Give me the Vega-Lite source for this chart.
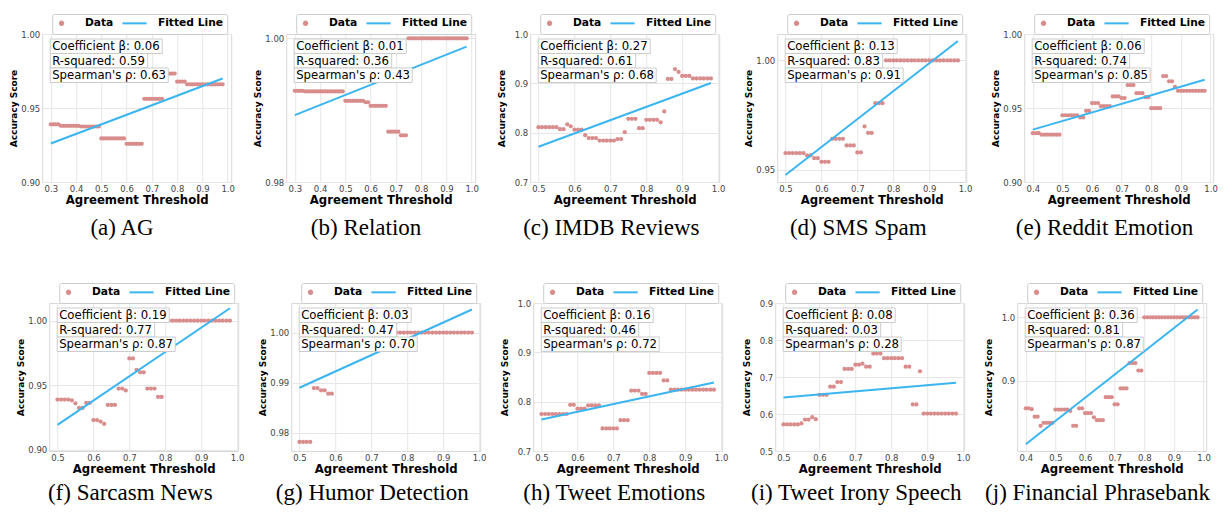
{
"$schema": "https://vega.github.io/schema/vega-lite/v6.json",
"padding": {"left": 9, "top": 13, "right": 0, "bottom": 0},
"spacing": 41,
"center": true,
"resolve": {"scale": {"color": "independent", "shape": "independent"}, "legend": {"color": "independent", "shape": "independent"}},
"datasets": {
"pts": [
{"p":"a","x":0.30,"y":0.939},{"p":"a","x":0.31,"y":0.939},{"p":"a","x":0.32,"y":0.939},{"p":"a","x":0.33,"y":0.939},
{"p":"a","x":0.34,"y":0.938},{"p":"a","x":0.35,"y":0.938},{"p":"a","x":0.36,"y":0.938},{"p":"a","x":0.37,"y":0.938},{"p":"a","x":0.38,"y":0.938},{"p":"a","x":0.39,"y":0.938},{"p":"a","x":0.40,"y":0.938},{"p":"a","x":0.41,"y":0.938},
{"p":"a","x":0.42,"y":0.9375},{"p":"a","x":0.43,"y":0.9375},{"p":"a","x":0.44,"y":0.9375},{"p":"a","x":0.45,"y":0.9375},{"p":"a","x":0.46,"y":0.9375},{"p":"a","x":0.47,"y":0.9375},{"p":"a","x":0.48,"y":0.9375},{"p":"a","x":0.49,"y":0.9375},
{"p":"a","x":0.50,"y":0.9294},{"p":"a","x":0.51,"y":0.9294},{"p":"a","x":0.52,"y":0.9294},{"p":"a","x":0.53,"y":0.9294},{"p":"a","x":0.54,"y":0.9294},{"p":"a","x":0.55,"y":0.9294},{"p":"a","x":0.56,"y":0.9294},{"p":"a","x":0.57,"y":0.9294},{"p":"a","x":0.58,"y":0.9294},{"p":"a","x":0.59,"y":0.9294},
{"p":"a","x":0.60,"y":0.9258},{"p":"a","x":0.61,"y":0.9258},{"p":"a","x":0.62,"y":0.9258},{"p":"a","x":0.63,"y":0.9258},{"p":"a","x":0.64,"y":0.9258},{"p":"a","x":0.65,"y":0.9258},{"p":"a","x":0.66,"y":0.9258},
{"p":"a","x":0.67,"y":0.9562},{"p":"a","x":0.68,"y":0.9562},{"p":"a","x":0.69,"y":0.9562},{"p":"a","x":0.70,"y":0.9562},{"p":"a","x":0.71,"y":0.9562},{"p":"a","x":0.72,"y":0.9562},{"p":"a","x":0.73,"y":0.9562},{"p":"a","x":0.74,"y":0.9562},
{"p":"a","x":0.75,"y":0.9733},{"p":"a","x":0.76,"y":0.9733},{"p":"a","x":0.77,"y":0.9733},{"p":"a","x":0.78,"y":0.9733},{"p":"a","x":0.79,"y":0.9733},
{"p":"a","x":0.80,"y":0.9679},{"p":"a","x":0.81,"y":0.9679},{"p":"a","x":0.82,"y":0.9679},{"p":"a","x":0.83,"y":0.9679},
{"p":"a","x":0.84,"y":0.966},{"p":"a","x":0.85,"y":0.966},{"p":"a","x":0.86,"y":0.966},{"p":"a","x":0.87,"y":0.966},{"p":"a","x":0.88,"y":0.966},{"p":"a","x":0.89,"y":0.966},{"p":"a","x":0.90,"y":0.966},{"p":"a","x":0.91,"y":0.966},{"p":"a","x":0.92,"y":0.966},{"p":"a","x":0.93,"y":0.966},{"p":"a","x":0.94,"y":0.966},{"p":"a","x":0.95,"y":0.966},{"p":"a","x":0.96,"y":0.966},{"p":"a","x":0.97,"y":0.966},{"p":"a","x":0.98,"y":0.966},

{"p":"b","x":0.30,"y":0.9927},{"p":"b","x":0.31,"y":0.9927},{"p":"b","x":0.32,"y":0.9927},{"p":"b","x":0.33,"y":0.9927},
{"p":"b","x":0.34,"y":0.9926},{"p":"b","x":0.35,"y":0.9926},{"p":"b","x":0.36,"y":0.9926},{"p":"b","x":0.37,"y":0.9926},{"p":"b","x":0.38,"y":0.9926},{"p":"b","x":0.39,"y":0.9926},{"p":"b","x":0.40,"y":0.9926},{"p":"b","x":0.41,"y":0.9926},{"p":"b","x":0.42,"y":0.9926},{"p":"b","x":0.43,"y":0.9926},{"p":"b","x":0.44,"y":0.9926},{"p":"b","x":0.45,"y":0.9926},{"p":"b","x":0.46,"y":0.9926},{"p":"b","x":0.47,"y":0.9926},{"p":"b","x":0.48,"y":0.9926},{"p":"b","x":0.49,"y":0.9926},
{"p":"b","x":0.50,"y":0.9913},{"p":"b","x":0.51,"y":0.9913},{"p":"b","x":0.52,"y":0.9913},{"p":"b","x":0.53,"y":0.9913},{"p":"b","x":0.54,"y":0.9913},{"p":"b","x":0.55,"y":0.9913},{"p":"b","x":0.56,"y":0.9913},{"p":"b","x":0.57,"y":0.9913},
{"p":"b","x":0.58,"y":0.9911},{"p":"b","x":0.59,"y":0.9911},
{"p":"b","x":0.60,"y":0.9906},{"p":"b","x":0.61,"y":0.9906},{"p":"b","x":0.62,"y":0.9906},{"p":"b","x":0.63,"y":0.9906},{"p":"b","x":0.64,"y":0.9906},{"p":"b","x":0.65,"y":0.9906},{"p":"b","x":0.66,"y":0.9906},
{"p":"b","x":0.67,"y":0.987},{"p":"b","x":0.68,"y":0.987},{"p":"b","x":0.69,"y":0.987},{"p":"b","x":0.70,"y":0.987},{"p":"b","x":0.71,"y":0.987},
{"p":"b","x":0.72,"y":0.9865},{"p":"b","x":0.73,"y":0.9865},{"p":"b","x":0.74,"y":0.9865},
{"p":"b","x":0.75,"y":1.0},{"p":"b","x":0.76,"y":1.0},{"p":"b","x":0.77,"y":1.0},{"p":"b","x":0.78,"y":1.0},{"p":"b","x":0.79,"y":1.0},{"p":"b","x":0.80,"y":1.0},{"p":"b","x":0.81,"y":1.0},{"p":"b","x":0.82,"y":1.0},{"p":"b","x":0.83,"y":1.0},{"p":"b","x":0.84,"y":1.0},{"p":"b","x":0.85,"y":1.0},{"p":"b","x":0.86,"y":1.0},{"p":"b","x":0.87,"y":1.0},{"p":"b","x":0.88,"y":1.0},{"p":"b","x":0.89,"y":1.0},{"p":"b","x":0.90,"y":1.0},{"p":"b","x":0.91,"y":1.0},{"p":"b","x":0.92,"y":1.0},{"p":"b","x":0.93,"y":1.0},{"p":"b","x":0.94,"y":1.0},{"p":"b","x":0.95,"y":1.0},{"p":"b","x":0.96,"y":1.0},{"p":"b","x":0.97,"y":1.0},{"p":"b","x":0.98,"y":1.0},

{"p":"c","x":0.50,"y":0.811},{"p":"c","x":0.51,"y":0.811},{"p":"c","x":0.52,"y":0.811},{"p":"c","x":0.53,"y":0.811},{"p":"c","x":0.54,"y":0.811},{"p":"c","x":0.55,"y":0.811},
{"p":"c","x":0.56,"y":0.807},{"p":"c","x":0.57,"y":0.807},{"p":"c","x":0.58,"y":0.817},{"p":"c","x":0.59,"y":0.813},
{"p":"c","x":0.60,"y":0.806},{"p":"c","x":0.61,"y":0.806},{"p":"c","x":0.62,"y":0.806},{"p":"c","x":0.63,"y":0.795},
{"p":"c","x":0.64,"y":0.789},{"p":"c","x":0.65,"y":0.789},{"p":"c","x":0.66,"y":0.789},
{"p":"c","x":0.67,"y":0.784},{"p":"c","x":0.68,"y":0.784},{"p":"c","x":0.69,"y":0.784},{"p":"c","x":0.70,"y":0.784},{"p":"c","x":0.71,"y":0.784},
{"p":"c","x":0.72,"y":0.787},{"p":"c","x":0.73,"y":0.787},{"p":"c","x":0.74,"y":0.801},
{"p":"c","x":0.75,"y":0.828},{"p":"c","x":0.76,"y":0.828},{"p":"c","x":0.77,"y":0.828},{"p":"c","x":0.78,"y":0.809},{"p":"c","x":0.79,"y":0.809},
{"p":"c","x":0.80,"y":0.826},{"p":"c","x":0.81,"y":0.826},{"p":"c","x":0.82,"y":0.826},{"p":"c","x":0.83,"y":0.826},{"p":"c","x":0.84,"y":0.821},{"p":"c","x":0.85,"y":0.843},
{"p":"c","x":0.86,"y":0.909},{"p":"c","x":0.87,"y":0.909},{"p":"c","x":0.88,"y":0.929},{"p":"c","x":0.89,"y":0.923},
{"p":"c","x":0.90,"y":0.915},{"p":"c","x":0.91,"y":0.915},{"p":"c","x":0.92,"y":0.915},
{"p":"c","x":0.93,"y":0.91},{"p":"c","x":0.94,"y":0.91},{"p":"c","x":0.95,"y":0.91},{"p":"c","x":0.96,"y":0.91},{"p":"c","x":0.97,"y":0.91},{"p":"c","x":0.98,"y":0.91},

{"p":"d","x":0.50,"y":0.9577},{"p":"d","x":0.51,"y":0.9577},{"p":"d","x":0.52,"y":0.9577},{"p":"d","x":0.53,"y":0.9577},{"p":"d","x":0.54,"y":0.9577},{"p":"d","x":0.55,"y":0.9577},
{"p":"d","x":0.56,"y":0.9567},{"p":"d","x":0.57,"y":0.9567},{"p":"d","x":0.58,"y":0.9554},{"p":"d","x":0.59,"y":0.9554},
{"p":"d","x":0.60,"y":0.9537},{"p":"d","x":0.61,"y":0.9537},{"p":"d","x":0.62,"y":0.9537},
{"p":"d","x":0.63,"y":0.9642},{"p":"d","x":0.64,"y":0.9642},{"p":"d","x":0.65,"y":0.9642},{"p":"d","x":0.66,"y":0.9642},
{"p":"d","x":0.67,"y":0.9612},{"p":"d","x":0.68,"y":0.9612},{"p":"d","x":0.69,"y":0.9612},
{"p":"d","x":0.70,"y":0.958},{"p":"d","x":0.71,"y":0.958},{"p":"d","x":0.72,"y":0.9699},{"p":"d","x":0.73,"y":0.9669},{"p":"d","x":0.74,"y":0.9669},
{"p":"d","x":0.75,"y":0.9805},{"p":"d","x":0.76,"y":0.9805},{"p":"d","x":0.77,"y":0.9805},
{"p":"d","x":0.78,"y":1.0},{"p":"d","x":0.79,"y":1.0},{"p":"d","x":0.80,"y":1.0},{"p":"d","x":0.81,"y":1.0},{"p":"d","x":0.82,"y":1.0},{"p":"d","x":0.83,"y":1.0},{"p":"d","x":0.84,"y":1.0},{"p":"d","x":0.85,"y":1.0},{"p":"d","x":0.86,"y":1.0},{"p":"d","x":0.87,"y":1.0},{"p":"d","x":0.88,"y":1.0},{"p":"d","x":0.89,"y":1.0},{"p":"d","x":0.90,"y":1.0},{"p":"d","x":0.91,"y":1.0},{"p":"d","x":0.92,"y":1.0},{"p":"d","x":0.93,"y":1.0},{"p":"d","x":0.94,"y":1.0},{"p":"d","x":0.95,"y":1.0},{"p":"d","x":0.96,"y":1.0},{"p":"d","x":0.97,"y":1.0},{"p":"d","x":0.98,"y":1.0},

{"p":"e","x":0.40,"y":0.933},{"p":"e","x":0.41,"y":0.933},{"p":"e","x":0.42,"y":0.933},
{"p":"e","x":0.43,"y":0.932},{"p":"e","x":0.44,"y":0.932},{"p":"e","x":0.45,"y":0.932},{"p":"e","x":0.46,"y":0.932},{"p":"e","x":0.47,"y":0.932},{"p":"e","x":0.48,"y":0.932},{"p":"e","x":0.49,"y":0.932},
{"p":"e","x":0.50,"y":0.9451},{"p":"e","x":0.51,"y":0.9451},{"p":"e","x":0.52,"y":0.9451},{"p":"e","x":0.53,"y":0.9451},{"p":"e","x":0.54,"y":0.9451},{"p":"e","x":0.55,"y":0.9451},
{"p":"e","x":0.56,"y":0.9436},{"p":"e","x":0.57,"y":0.9436},{"p":"e","x":0.58,"y":0.9481},{"p":"e","x":0.59,"y":0.9481},
{"p":"e","x":0.60,"y":0.9533},{"p":"e","x":0.61,"y":0.9533},{"p":"e","x":0.62,"y":0.9533},
{"p":"e","x":0.63,"y":0.9512},{"p":"e","x":0.64,"y":0.9512},{"p":"e","x":0.65,"y":0.9512},{"p":"e","x":0.66,"y":0.9512},
{"p":"e","x":0.67,"y":0.9578},{"p":"e","x":0.68,"y":0.9578},{"p":"e","x":0.69,"y":0.9578},
{"p":"e","x":0.70,"y":0.9567},{"p":"e","x":0.71,"y":0.9567},
{"p":"e","x":0.72,"y":0.9655},{"p":"e","x":0.73,"y":0.9655},{"p":"e","x":0.74,"y":0.9655},
{"p":"e","x":0.75,"y":0.96},{"p":"e","x":0.76,"y":0.96},{"p":"e","x":0.77,"y":0.96},
{"p":"e","x":0.78,"y":0.9573},{"p":"e","x":0.79,"y":0.9573},
{"p":"e","x":0.80,"y":0.9499},{"p":"e","x":0.81,"y":0.9499},{"p":"e","x":0.82,"y":0.9499},{"p":"e","x":0.83,"y":0.9499},
{"p":"e","x":0.84,"y":0.9716},{"p":"e","x":0.85,"y":0.9716},{"p":"e","x":0.86,"y":0.968},{"p":"e","x":0.87,"y":0.968},{"p":"e","x":0.88,"y":0.9643},
{"p":"e","x":0.89,"y":0.9616},{"p":"e","x":0.90,"y":0.9616},{"p":"e","x":0.91,"y":0.9616},{"p":"e","x":0.92,"y":0.9616},{"p":"e","x":0.93,"y":0.9616},{"p":"e","x":0.94,"y":0.9616},{"p":"e","x":0.95,"y":0.9616},{"p":"e","x":0.96,"y":0.9616},{"p":"e","x":0.97,"y":0.9616},{"p":"e","x":0.98,"y":0.9616},

{"p":"f","x":0.50,"y":0.9389},{"p":"f","x":0.51,"y":0.9389},{"p":"f","x":0.52,"y":0.9389},{"p":"f","x":0.53,"y":0.9389},
{"p":"f","x":0.54,"y":0.9383},{"p":"f","x":0.55,"y":0.936},{"p":"f","x":0.56,"y":0.9324},{"p":"f","x":0.57,"y":0.9324},
{"p":"f","x":0.58,"y":0.9363},{"p":"f","x":0.59,"y":0.9363},{"p":"f","x":0.60,"y":0.923},{"p":"f","x":0.61,"y":0.923},
{"p":"f","x":0.62,"y":0.9218},{"p":"f","x":0.63,"y":0.92},
{"p":"f","x":0.64,"y":0.9347},{"p":"f","x":0.65,"y":0.9347},{"p":"f","x":0.66,"y":0.9347},
{"p":"f","x":0.67,"y":0.9474},{"p":"f","x":0.68,"y":0.9474},{"p":"f","x":0.69,"y":0.9459},
{"p":"f","x":0.70,"y":0.9707},{"p":"f","x":0.71,"y":0.9707},{"p":"f","x":0.72,"y":0.9619},{"p":"f","x":0.73,"y":0.96},{"p":"f","x":0.74,"y":0.96},
{"p":"f","x":0.75,"y":0.9474},{"p":"f","x":0.76,"y":0.9474},{"p":"f","x":0.77,"y":0.9474},{"p":"f","x":0.78,"y":0.9409},{"p":"f","x":0.79,"y":0.9409},
{"p":"f","x":0.80,"y":1.0},{"p":"f","x":0.81,"y":1.0},{"p":"f","x":0.82,"y":1.0},{"p":"f","x":0.83,"y":1.0},{"p":"f","x":0.84,"y":1.0},{"p":"f","x":0.85,"y":1.0},{"p":"f","x":0.86,"y":1.0},{"p":"f","x":0.87,"y":1.0},{"p":"f","x":0.88,"y":1.0},{"p":"f","x":0.89,"y":1.0},{"p":"f","x":0.90,"y":1.0},{"p":"f","x":0.91,"y":1.0},{"p":"f","x":0.92,"y":1.0},{"p":"f","x":0.93,"y":1.0},{"p":"f","x":0.94,"y":1.0},{"p":"f","x":0.95,"y":1.0},{"p":"f","x":0.96,"y":1.0},{"p":"f","x":0.97,"y":1.0},{"p":"f","x":0.98,"y":1.0},

{"p":"g","x":0.50,"y":0.9782},{"p":"g","x":0.51,"y":0.9782},{"p":"g","x":0.52,"y":0.9782},{"p":"g","x":0.53,"y":0.9782},
{"p":"g","x":0.54,"y":0.98895},{"p":"g","x":0.55,"y":0.98895},{"p":"g","x":0.56,"y":0.98849},{"p":"g","x":0.57,"y":0.98849},{"p":"g","x":0.58,"y":0.98783},{"p":"g","x":0.59,"y":0.98783},
{"p":"g","x":0.60,"y":1.0},{"p":"g","x":0.61,"y":1.0},{"p":"g","x":0.62,"y":1.0},{"p":"g","x":0.63,"y":1.0},{"p":"g","x":0.64,"y":1.0},{"p":"g","x":0.65,"y":1.0},{"p":"g","x":0.66,"y":1.0},{"p":"g","x":0.67,"y":1.0},{"p":"g","x":0.68,"y":1.0},{"p":"g","x":0.69,"y":1.0},{"p":"g","x":0.70,"y":1.0},{"p":"g","x":0.71,"y":1.0},{"p":"g","x":0.72,"y":1.0},{"p":"g","x":0.73,"y":1.0},{"p":"g","x":0.74,"y":1.0},{"p":"g","x":0.75,"y":1.0},{"p":"g","x":0.76,"y":1.0},{"p":"g","x":0.77,"y":1.0},{"p":"g","x":0.78,"y":1.0},{"p":"g","x":0.79,"y":1.0},{"p":"g","x":0.80,"y":1.0},{"p":"g","x":0.81,"y":1.0},{"p":"g","x":0.82,"y":1.0},{"p":"g","x":0.83,"y":1.0},{"p":"g","x":0.84,"y":1.0},{"p":"g","x":0.85,"y":1.0},{"p":"g","x":0.86,"y":1.0},{"p":"g","x":0.87,"y":1.0},{"p":"g","x":0.88,"y":1.0},{"p":"g","x":0.89,"y":1.0},{"p":"g","x":0.90,"y":1.0},{"p":"g","x":0.91,"y":1.0},{"p":"g","x":0.92,"y":1.0},{"p":"g","x":0.93,"y":1.0},{"p":"g","x":0.94,"y":1.0},{"p":"g","x":0.95,"y":1.0},{"p":"g","x":0.96,"y":1.0},{"p":"g","x":0.97,"y":1.0},{"p":"g","x":0.98,"y":1.0},

{"p":"h","x":0.50,"y":0.775},{"p":"h","x":0.51,"y":0.775},{"p":"h","x":0.52,"y":0.775},{"p":"h","x":0.53,"y":0.775},{"p":"h","x":0.54,"y":0.775},{"p":"h","x":0.55,"y":0.775},{"p":"h","x":0.56,"y":0.775},{"p":"h","x":0.57,"y":0.775},
{"p":"h","x":0.58,"y":0.7937},{"p":"h","x":0.59,"y":0.7937},{"p":"h","x":0.60,"y":0.7858},{"p":"h","x":0.61,"y":0.7858},{"p":"h","x":0.62,"y":0.7858},
{"p":"h","x":0.63,"y":0.7924},{"p":"h","x":0.64,"y":0.7924},{"p":"h","x":0.65,"y":0.7924},{"p":"h","x":0.66,"y":0.7924},
{"p":"h","x":0.67,"y":0.7458},{"p":"h","x":0.68,"y":0.7458},{"p":"h","x":0.69,"y":0.7458},{"p":"h","x":0.70,"y":0.7458},{"p":"h","x":0.71,"y":0.7458},
{"p":"h","x":0.72,"y":0.7625},{"p":"h","x":0.73,"y":0.7625},{"p":"h","x":0.74,"y":0.7625},
{"p":"h","x":0.75,"y":0.8224},{"p":"h","x":0.76,"y":0.8224},{"p":"h","x":0.77,"y":0.8224},{"p":"h","x":0.78,"y":0.8157},{"p":"h","x":0.79,"y":0.8157},
{"p":"h","x":0.80,"y":0.8583},{"p":"h","x":0.81,"y":0.8583},{"p":"h","x":0.82,"y":0.8583},{"p":"h","x":0.83,"y":0.8583},{"p":"h","x":0.84,"y":0.843},{"p":"h","x":0.85,"y":0.843},
{"p":"h","x":0.86,"y":0.8244},{"p":"h","x":0.87,"y":0.8244},{"p":"h","x":0.88,"y":0.8244},{"p":"h","x":0.89,"y":0.8244},{"p":"h","x":0.90,"y":0.8244},{"p":"h","x":0.91,"y":0.8244},{"p":"h","x":0.92,"y":0.8244},{"p":"h","x":0.93,"y":0.8244},{"p":"h","x":0.94,"y":0.8244},{"p":"h","x":0.95,"y":0.8244},{"p":"h","x":0.96,"y":0.8244},{"p":"h","x":0.97,"y":0.8244},{"p":"h","x":0.98,"y":0.8244},

{"p":"i","x":0.50,"y":0.5718},{"p":"i","x":0.51,"y":0.5718},{"p":"i","x":0.52,"y":0.5718},{"p":"i","x":0.53,"y":0.5718},{"p":"i","x":0.54,"y":0.5718},
{"p":"i","x":0.55,"y":0.5745},{"p":"i","x":0.56,"y":0.5851},{"p":"i","x":0.57,"y":0.5851},{"p":"i","x":0.58,"y":0.5913},{"p":"i","x":0.59,"y":0.586},
{"p":"i","x":0.60,"y":0.6517},{"p":"i","x":0.61,"y":0.6517},{"p":"i","x":0.62,"y":0.6517},
{"p":"i","x":0.63,"y":0.6738},{"p":"i","x":0.64,"y":0.6738},{"p":"i","x":0.65,"y":0.6863},{"p":"i","x":0.66,"y":0.6863},
{"p":"i","x":0.67,"y":0.7217},{"p":"i","x":0.68,"y":0.7217},{"p":"i","x":0.69,"y":0.7217},
{"p":"i","x":0.70,"y":0.7333},{"p":"i","x":0.71,"y":0.7333},{"p":"i","x":0.72,"y":0.7359},{"p":"i","x":0.73,"y":0.7279},{"p":"i","x":0.74,"y":0.7279},
{"p":"i","x":0.75,"y":0.7634},{"p":"i","x":0.76,"y":0.7634},{"p":"i","x":0.77,"y":0.7634},
{"p":"i","x":0.78,"y":0.751},{"p":"i","x":0.79,"y":0.751},{"p":"i","x":0.80,"y":0.751},{"p":"i","x":0.81,"y":0.751},{"p":"i","x":0.82,"y":0.751},{"p":"i","x":0.83,"y":0.751},
{"p":"i","x":0.84,"y":0.7279},{"p":"i","x":0.85,"y":0.7279},{"p":"i","x":0.86,"y":0.6259},{"p":"i","x":0.87,"y":0.6259},{"p":"i","x":0.88,"y":0.7155},
{"p":"i","x":0.89,"y":0.6011},{"p":"i","x":0.90,"y":0.6011},{"p":"i","x":0.91,"y":0.6011},{"p":"i","x":0.92,"y":0.6011},{"p":"i","x":0.93,"y":0.6011},{"p":"i","x":0.94,"y":0.6011},{"p":"i","x":0.95,"y":0.6011},{"p":"i","x":0.96,"y":0.6011},{"p":"i","x":0.97,"y":0.6011},{"p":"i","x":0.98,"y":0.6011},

{"p":"j","x":0.40,"y":0.857},{"p":"j","x":0.41,"y":0.857},{"p":"j","x":0.42,"y":0.8556},{"p":"j","x":0.43,"y":0.8439},{"p":"j","x":0.44,"y":0.8439},{"p":"j","x":0.45,"y":0.8296},
{"p":"j","x":0.46,"y":0.8342},{"p":"j","x":0.47,"y":0.8342},{"p":"j","x":0.48,"y":0.8342},{"p":"j","x":0.49,"y":0.8342},
{"p":"j","x":0.50,"y":0.8551},{"p":"j","x":0.51,"y":0.8551},{"p":"j","x":0.52,"y":0.8551},{"p":"j","x":0.53,"y":0.8551},{"p":"j","x":0.54,"y":0.8551},{"p":"j","x":0.55,"y":0.853},
{"p":"j","x":0.56,"y":0.8296},{"p":"j","x":0.57,"y":0.8296},{"p":"j","x":0.58,"y":0.857},{"p":"j","x":0.59,"y":0.857},
{"p":"j","x":0.60,"y":0.8495},{"p":"j","x":0.61,"y":0.8495},{"p":"j","x":0.62,"y":0.8495},{"p":"j","x":0.63,"y":0.8429},
{"p":"j","x":0.64,"y":0.8383},{"p":"j","x":0.65,"y":0.8383},{"p":"j","x":0.66,"y":0.8383},
{"p":"j","x":0.67,"y":0.8745},{"p":"j","x":0.68,"y":0.8745},{"p":"j","x":0.69,"y":0.8745},{"p":"j","x":0.70,"y":0.8633},{"p":"j","x":0.71,"y":0.8633},
{"p":"j","x":0.72,"y":0.8883},{"p":"j","x":0.73,"y":0.8883},{"p":"j","x":0.74,"y":0.8883},
{"p":"j","x":0.75,"y":0.9281},{"p":"j","x":0.76,"y":0.9281},{"p":"j","x":0.77,"y":0.9281},{"p":"j","x":0.78,"y":0.9163},{"p":"j","x":0.79,"y":0.9163},
{"p":"j","x":0.80,"y":1.0},{"p":"j","x":0.81,"y":1.0},{"p":"j","x":0.82,"y":1.0},{"p":"j","x":0.83,"y":1.0},{"p":"j","x":0.84,"y":1.0},{"p":"j","x":0.85,"y":1.0},{"p":"j","x":0.86,"y":1.0},{"p":"j","x":0.87,"y":1.0},{"p":"j","x":0.88,"y":1.0},{"p":"j","x":0.89,"y":1.0},{"p":"j","x":0.90,"y":1.0},{"p":"j","x":0.91,"y":1.0},{"p":"j","x":0.92,"y":1.0},{"p":"j","x":0.93,"y":1.0},{"p":"j","x":0.94,"y":1.0},{"p":"j","x":0.95,"y":1.0},{"p":"j","x":0.96,"y":1.0},{"p":"j","x":0.97,"y":1.0},{"p":"j","x":0.98,"y":1.0}
],
"fit": [
{"p":"a","x":0.30,"y":0.926},{"p":"a","x":0.98,"y":0.9699},
{"p":"b","x":0.30,"y":0.9893},{"p":"b","x":0.98,"y":0.99884},
{"p":"c","x":0.50,"y":0.7715},{"p":"c","x":0.98,"y":0.9007},
{"p":"d","x":0.50,"y":0.9477},{"p":"d","x":0.98,"y":1.0089},
{"p":"e","x":0.40,"y":0.9354},{"p":"e","x":0.98,"y":0.9691},
{"p":"f","x":0.50,"y":0.9192},{"p":"f","x":0.98,"y":1.0096},
{"p":"g","x":0.50,"y":0.98901},{"p":"g","x":0.98,"y":1.0046},
{"p":"h","x":0.50,"y":0.7638},{"p":"h","x":0.98,"y":0.839},
{"p":"i","x":0.50,"y":0.6446},{"p":"i","x":0.98,"y":0.6845},
{"p":"j","x":0.40,"y":0.8005},{"p":"j","x":0.98,"y":1.0122}
]
},
"vconcat": [
{"resolve": {"scale": {"color": "independent", "shape": "independent"}, "legend": {"color": "independent", "shape": "independent"}},
"hconcat": [
{"width":189,"height":148,"title":{"text":"(a) AG","offset":11},
"layer":[
{"data":{"name":"pts"},"transform":[{"filter":"datum.p === 'a'"}],"mark":{"type":"point","filled":true,"size":18,"opacity":1},
"encoding":{"x":{"field":"x","type":"quantitative","scale":{"domain":[0.266,1.014],"nice":false,"zero":false},"axis":{"values":[0.3,0.4,0.5,0.6,0.7,0.8,0.9,1.0],"tickCount":20,"format":".1f","title":"Agreement Threshold"}},
"y":{"field":"y","type":"quantitative","scale":{"domain":[0.9,1.0],"nice":false,"zero":false},"axis":{"values":[0.9,0.95,1.0],"tickCount":20,"format":".2f","title":"Accuracy Score"}},
"color":{"datum":"Data","type":"nominal","scale":{"domain":["Data","Fitted Line"],"range":["#d88c8c","#3bb5f0"]},"legend":{"title":null,"orient":"none","legendX":10,"legendY":-20,"direction":"horizontal"}},
"shape":{"datum":"Data","type":"nominal","scale":{"domain":["Data","Fitted Line"],"range":["circle","M-7,0H7"]},"legend":{"title":null,"orient":"none","legendX":10,"legendY":-20,"direction":"horizontal"}}}},
{"data":{"name":"fit"},"transform":[{"filter":"datum.p === 'a'"}],"mark":{"type":"line","strokeWidth":2},"encoding":{"x":{"field":"x","type":"quantitative"},"y":{"field":"y","type":"quantitative"},"color":{"datum":"Fitted Line","type":"nominal"}}},
{"data":{"values":[{}]},"mark":{"type":"rect","fill":"white","stroke":"#cccccc","strokeWidth":1},"encoding":{"x":{"datum":0.29766},"x2":{"datum":0.74092},"y":{"datum":0.99662},"y2":{"datum":0.98682}}},
{"data":{"values":[{}]},"mark":{"type":"rect","fill":"white","stroke":"#cccccc","strokeWidth":1},"encoding":{"x":{"datum":0.29766},"x2":{"datum":0.68354},"y":{"datum":0.98682},"y2":{"datum":0.97703}}},
{"data":{"values":[{}]},"mark":{"type":"rect","fill":"white","stroke":"#cccccc","strokeWidth":1},"encoding":{"x":{"datum":0.29766},"x2":{"datum":0.76467},"y":{"datum":0.97703},"y2":{"datum":0.96723}}},
{"data":{"values":[{}]},"mark":{"type":"text","align":"left","baseline":"alphabetic","fontSize":11.7,"lineHeight":14.5,"color":"#000000","text":["Coefficient β: 0.06","R-squared: 0.59","Spearman's ρ: 0.63"]},"encoding":{"x":{"datum":0.30558},"y":{"datum":0.98892}}}
]},
{"width":189,"height":148,"title":{"text":"(b) Relation","offset":11},
"layer":[
{"data":{"name":"pts"},"transform":[{"filter":"datum.p === 'b'"}],"mark":{"type":"point","filled":true,"size":18,"opacity":1},
"encoding":{"x":{"field":"x","type":"quantitative","scale":{"domain":[0.266,1.014],"nice":false,"zero":false},"axis":{"values":[0.3,0.4,0.5,0.6,0.7,0.8,0.9,1.0],"tickCount":20,"format":".1f","title":"Agreement Threshold"}},
"y":{"field":"y","type":"quantitative","scale":{"domain":[0.98,1.0006],"nice":false,"zero":false},"axis":{"values":[0.98,1.0],"tickCount":20,"format":".2f","title":"Accuracy Score"}},
"color":{"datum":"Data","type":"nominal","scale":{"domain":["Data","Fitted Line"],"range":["#d88c8c","#3bb5f0"]},"legend":{"title":null,"orient":"none","legendX":10,"legendY":-20,"direction":"horizontal"}},
"shape":{"datum":"Data","type":"nominal","scale":{"domain":["Data","Fitted Line"],"range":["circle","M-7,0H7"]},"legend":{"title":null,"orient":"none","legendX":10,"legendY":-20,"direction":"horizontal"}}}},
{"data":{"name":"fit"},"transform":[{"filter":"datum.p === 'b'"}],"mark":{"type":"line","strokeWidth":2},"encoding":{"x":{"field":"x","type":"quantitative"},"y":{"field":"y","type":"quantitative"},"color":{"datum":"Fitted Line","type":"nominal"}}},
{"data":{"values":[{}]},"mark":{"type":"rect","fill":"white","stroke":"#cccccc","strokeWidth":1},"encoding":{"x":{"datum":0.29766},"x2":{"datum":0.74092},"y":{"datum":0.9999},"y2":{"datum":0.99789}}},
{"data":{"values":[{}]},"mark":{"type":"rect","fill":"white","stroke":"#cccccc","strokeWidth":1},"encoding":{"x":{"datum":0.29766},"x2":{"datum":0.68354},"y":{"datum":0.99789},"y2":{"datum":0.99587}}},
{"data":{"values":[{}]},"mark":{"type":"rect","fill":"white","stroke":"#cccccc","strokeWidth":1},"encoding":{"x":{"datum":0.29766},"x2":{"datum":0.76467},"y":{"datum":0.99587},"y2":{"datum":0.99385}}},
{"data":{"values":[{}]},"mark":{"type":"text","align":"left","baseline":"alphabetic","fontSize":11.7,"lineHeight":14.5,"color":"#000000","text":["Coefficient β: 0.01","R-squared: 0.36","Spearman's ρ: 0.43"]},"encoding":{"x":{"datum":0.30558},"y":{"datum":0.99832}}}
]},
{"width":189,"height":148,"title":{"text":"(c) IMDB Reviews","offset":11},
"layer":[
{"data":{"name":"pts"},"transform":[{"filter":"datum.p === 'c'"}],"mark":{"type":"point","filled":true,"size":18,"opacity":1},
"encoding":{"x":{"field":"x","type":"quantitative","scale":{"domain":[0.477,1.003],"nice":false,"zero":false},"axis":{"values":[0.5,0.6,0.7,0.8,0.9,1.0],"tickCount":20,"format":".1f","title":"Agreement Threshold"}},
"y":{"field":"y","type":"quantitative","scale":{"domain":[0.7,1.0],"nice":false,"zero":false},"axis":{"values":[0.7,0.8,0.9,1.0],"tickCount":20,"format":".1f","title":"Accuracy Score"}},
"color":{"datum":"Data","type":"nominal","scale":{"domain":["Data","Fitted Line"],"range":["#d88c8c","#3bb5f0"]},"legend":{"title":null,"orient":"none","legendX":10,"legendY":-20,"direction":"horizontal"}},
"shape":{"datum":"Data","type":"nominal","scale":{"domain":["Data","Fitted Line"],"range":["circle","M-7,0H7"]},"legend":{"title":null,"orient":"none","legendX":10,"legendY":-20,"direction":"horizontal"}}}},
{"data":{"name":"fit"},"transform":[{"filter":"datum.p === 'c'"}],"mark":{"type":"line","strokeWidth":2},"encoding":{"x":{"field":"x","type":"quantitative"},"y":{"field":"y","type":"quantitative"},"color":{"datum":"Fitted Line","type":"nominal"}}},
{"data":{"values":[{}]},"mark":{"type":"rect","fill":"white","stroke":"#cccccc","strokeWidth":1},"encoding":{"x":{"datum":0.49927},"x2":{"datum":0.81097},"y":{"datum":0.98986},"y2":{"datum":0.96047}}},
{"data":{"values":[{}]},"mark":{"type":"rect","fill":"white","stroke":"#cccccc","strokeWidth":1},"encoding":{"x":{"datum":0.49927},"x2":{"datum":0.77062},"y":{"datum":0.96047},"y2":{"datum":0.93108}}},
{"data":{"values":[{}]},"mark":{"type":"rect","fill":"white","stroke":"#cccccc","strokeWidth":1},"encoding":{"x":{"datum":0.49927},"x2":{"datum":0.82767},"y":{"datum":0.93108},"y2":{"datum":0.90169}}},
{"data":{"values":[{}]},"mark":{"type":"text","align":"left","baseline":"alphabetic","fontSize":11.7,"lineHeight":14.5,"color":"#000000","text":["Coefficient β: 0.27","R-squared: 0.61","Spearman's ρ: 0.68"]},"encoding":{"x":{"datum":0.50483},"y":{"datum":0.96676}}}
]},
{"width":189,"height":148,"title":{"text":"(d) SMS Spam","offset":11},
"layer":[
{"data":{"name":"pts"},"transform":[{"filter":"datum.p === 'd'"}],"mark":{"type":"point","filled":true,"size":18,"opacity":1},
"encoding":{"x":{"field":"x","type":"quantitative","scale":{"domain":[0.477,1.003],"nice":false,"zero":false},"axis":{"values":[0.5,0.6,0.7,0.8,0.9,1.0],"tickCount":20,"format":".1f","title":"Agreement Threshold"}},
"y":{"field":"y","type":"quantitative","scale":{"domain":[0.9445,1.0121],"nice":false,"zero":false},"axis":{"values":[0.95,1.0],"tickCount":20,"format":".2f","title":"Accuracy Score"}},
"color":{"datum":"Data","type":"nominal","scale":{"domain":["Data","Fitted Line"],"range":["#d88c8c","#3bb5f0"]},"legend":{"title":null,"orient":"none","legendX":10,"legendY":-20,"direction":"horizontal"}},
"shape":{"datum":"Data","type":"nominal","scale":{"domain":["Data","Fitted Line"],"range":["circle","M-7,0H7"]},"legend":{"title":null,"orient":"none","legendX":10,"legendY":-20,"direction":"horizontal"}}}},
{"data":{"name":"fit"},"transform":[{"filter":"datum.p === 'd'"}],"mark":{"type":"line","strokeWidth":2},"encoding":{"x":{"field":"x","type":"quantitative"},"y":{"field":"y","type":"quantitative"},"color":{"datum":"Fitted Line","type":"nominal"}}},
{"data":{"values":[{}]},"mark":{"type":"rect","fill":"white","stroke":"#cccccc","strokeWidth":1},"encoding":{"x":{"datum":0.49927},"x2":{"datum":0.81097},"y":{"datum":1.00982},"y2":{"datum":1.00319}}},
{"data":{"values":[{}]},"mark":{"type":"rect","fill":"white","stroke":"#cccccc","strokeWidth":1},"encoding":{"x":{"datum":0.49927},"x2":{"datum":0.77062},"y":{"datum":1.00319},"y2":{"datum":0.99657}}},
{"data":{"values":[{}]},"mark":{"type":"rect","fill":"white","stroke":"#cccccc","strokeWidth":1},"encoding":{"x":{"datum":0.49927},"x2":{"datum":0.82767},"y":{"datum":0.99657},"y2":{"datum":0.98995}}},
{"data":{"values":[{}]},"mark":{"type":"text","align":"left","baseline":"alphabetic","fontSize":11.7,"lineHeight":14.5,"color":"#000000","text":["Coefficient β: 0.13","R-squared: 0.83","Spearman's ρ: 0.91"]},"encoding":{"x":{"datum":0.50483},"y":{"datum":1.00461}}}
]},
{"width":189,"height":148,"title":{"text":"(e) Reddit Emotion","offset":11},
"layer":[
{"data":{"name":"pts"},"transform":[{"filter":"datum.p === 'e'"}],"mark":{"type":"point","filled":true,"size":18,"opacity":1},
"encoding":{"x":{"field":"x","type":"quantitative","scale":{"domain":[0.371,1.009],"nice":false,"zero":false},"axis":{"values":[0.4,0.5,0.6,0.7,0.8,0.9,1.0],"tickCount":20,"format":".1f","title":"Agreement Threshold"}},
"y":{"field":"y","type":"quantitative","scale":{"domain":[0.9,1.0],"nice":false,"zero":false},"axis":{"values":[0.9,0.95,1.0],"tickCount":20,"format":".2f","title":"Accuracy Score"}},
"color":{"datum":"Data","type":"nominal","scale":{"domain":["Data","Fitted Line"],"range":["#d88c8c","#3bb5f0"]},"legend":{"title":null,"orient":"none","legendX":10,"legendY":-20,"direction":"horizontal"}},
"shape":{"datum":"Data","type":"nominal","scale":{"domain":["Data","Fitted Line"],"range":["circle","M-7,0H7"]},"legend":{"title":null,"orient":"none","legendX":10,"legendY":-20,"direction":"horizontal"}}}},
{"data":{"name":"fit"},"transform":[{"filter":"datum.p === 'e'"}],"mark":{"type":"line","strokeWidth":2},"encoding":{"x":{"field":"x","type":"quantitative"},"y":{"field":"y","type":"quantitative"},"color":{"datum":"Fitted Line","type":"nominal"}}},
{"data":{"values":[{}]},"mark":{"type":"rect","fill":"white","stroke":"#cccccc","strokeWidth":1},"encoding":{"x":{"datum":0.39801},"x2":{"datum":0.77608},"y":{"datum":0.99662},"y2":{"datum":0.98682}}},
{"data":{"values":[{}]},"mark":{"type":"rect","fill":"white","stroke":"#cccccc","strokeWidth":1},"encoding":{"x":{"datum":0.39801},"x2":{"datum":0.72714},"y":{"datum":0.98682},"y2":{"datum":0.97703}}},
{"data":{"values":[{}]},"mark":{"type":"rect","fill":"white","stroke":"#cccccc","strokeWidth":1},"encoding":{"x":{"datum":0.39801},"x2":{"datum":0.79634},"y":{"datum":0.97703},"y2":{"datum":0.96723}}},
{"data":{"values":[{}]},"mark":{"type":"text","align":"left","baseline":"alphabetic","fontSize":11.7,"lineHeight":14.5,"color":"#000000","text":["Coefficient β: 0.06","R-squared: 0.74","Spearman's ρ: 0.85"]},"encoding":{"x":{"datum":0.40476},"y":{"datum":0.98892}}}
]}
], "spacing": 18},
{"resolve": {"scale": {"color": "independent", "shape": "independent"}, "legend": {"color": "independent", "shape": "independent"}},
"hconcat": [
{"width":189,"height":148,"title":{"text":"(f) Sarcasm News","offset":7},
"layer":[
{"data":{"name":"pts"},"transform":[{"filter":"datum.p === 'f'"}],"mark":{"type":"point","filled":true,"size":18,"opacity":1},
"encoding":{"x":{"field":"x","type":"quantitative","scale":{"domain":[0.477,1.003],"nice":false,"zero":false},"axis":{"values":[0.5,0.6,0.7,0.8,0.9,1.0],"tickCount":20,"format":".1f","title":"Agreement Threshold"}},
"y":{"field":"y","type":"quantitative","scale":{"domain":[0.899,1.0137],"nice":false,"zero":false},"axis":{"values":[0.9,0.95,1.0],"tickCount":20,"format":".2f","title":"Accuracy Score"}},
"color":{"datum":"Data","type":"nominal","scale":{"domain":["Data","Fitted Line"],"range":["#d88c8c","#3bb5f0"]},"legend":{"title":null,"orient":"none","legendX":10,"legendY":-20,"direction":"horizontal"}},
"shape":{"datum":"Data","type":"nominal","scale":{"domain":["Data","Fitted Line"],"range":["circle","M-7,0H7"]},"legend":{"title":null,"orient":"none","legendX":10,"legendY":-20,"direction":"horizontal"}}}},
{"data":{"name":"fit"},"transform":[{"filter":"datum.p === 'f'"}],"mark":{"type":"line","strokeWidth":2},"encoding":{"x":{"field":"x","type":"quantitative"},"y":{"field":"y","type":"quantitative"},"color":{"datum":"Fitted Line","type":"nominal"}}},
{"data":{"values":[{}]},"mark":{"type":"rect","fill":"white","stroke":"#cccccc","strokeWidth":1},"encoding":{"x":{"datum":0.49927},"x2":{"datum":0.81097},"y":{"datum":1.00983},"y2":{"datum":0.99859}}},
{"data":{"values":[{}]},"mark":{"type":"rect","fill":"white","stroke":"#cccccc","strokeWidth":1},"encoding":{"x":{"datum":0.49927},"x2":{"datum":0.77062},"y":{"datum":0.99859},"y2":{"datum":0.98735}}},
{"data":{"values":[{}]},"mark":{"type":"rect","fill":"white","stroke":"#cccccc","strokeWidth":1},"encoding":{"x":{"datum":0.49927},"x2":{"datum":0.82767},"y":{"datum":0.98735},"y2":{"datum":0.97611}}},
{"data":{"values":[{}]},"mark":{"type":"text","align":"left","baseline":"alphabetic","fontSize":11.7,"lineHeight":14.5,"color":"#000000","text":["Coefficient β: 0.19","R-squared: 0.77","Spearman's ρ: 0.87"]},"encoding":{"x":{"datum":0.50483},"y":{"datum":1.00099}}}
]},
{"width":189,"height":148,"title":{"text":"(g) Humor Detection","offset":7},
"layer":[
{"data":{"name":"pts"},"transform":[{"filter":"datum.p === 'g'"}],"mark":{"type":"point","filled":true,"size":18,"opacity":1},
"encoding":{"x":{"field":"x","type":"quantitative","scale":{"domain":[0.477,1.003],"nice":false,"zero":false},"axis":{"values":[0.5,0.6,0.7,0.8,0.9,1.0],"tickCount":20,"format":".1f","title":"Agreement Threshold"}},
"y":{"field":"y","type":"quantitative","scale":{"domain":[0.9764,1.0059],"nice":false,"zero":false},"axis":{"values":[0.98,0.99,1.0],"tickCount":20,"format":".2f","title":"Accuracy Score"}},
"color":{"datum":"Data","type":"nominal","scale":{"domain":["Data","Fitted Line"],"range":["#d88c8c","#3bb5f0"]},"legend":{"title":null,"orient":"none","legendX":10,"legendY":-20,"direction":"horizontal"}},
"shape":{"datum":"Data","type":"nominal","scale":{"domain":["Data","Fitted Line"],"range":["circle","M-7,0H7"]},"legend":{"title":null,"orient":"none","legendX":10,"legendY":-20,"direction":"horizontal"}}}},
{"data":{"name":"fit"},"transform":[{"filter":"datum.p === 'g'"}],"mark":{"type":"line","strokeWidth":2},"encoding":{"x":{"field":"x","type":"quantitative"},"y":{"field":"y","type":"quantitative"},"color":{"datum":"Fitted Line","type":"nominal"}}},
{"data":{"values":[{}]},"mark":{"type":"rect","fill":"white","stroke":"#cccccc","strokeWidth":1},"encoding":{"x":{"datum":0.49927},"x2":{"datum":0.81097},"y":{"datum":1.0049},"y2":{"datum":1.00201}}},
{"data":{"values":[{}]},"mark":{"type":"rect","fill":"white","stroke":"#cccccc","strokeWidth":1},"encoding":{"x":{"datum":0.49927},"x2":{"datum":0.77062},"y":{"datum":1.00201},"y2":{"datum":0.99912}}},
{"data":{"values":[{}]},"mark":{"type":"rect","fill":"white","stroke":"#cccccc","strokeWidth":1},"encoding":{"x":{"datum":0.49927},"x2":{"datum":0.82767},"y":{"datum":0.99912},"y2":{"datum":0.99623}}},
{"data":{"values":[{}]},"mark":{"type":"text","align":"left","baseline":"alphabetic","fontSize":11.7,"lineHeight":14.5,"color":"#000000","text":["Coefficient β: 0.03","R-squared: 0.47","Spearman's ρ: 0.70"]},"encoding":{"x":{"datum":0.50483},"y":{"datum":1.00263}}}
]},
{"width":189,"height":148,"title":{"text":"(h) Tweet Emotions","offset":7},
"layer":[
{"data":{"name":"pts"},"transform":[{"filter":"datum.p === 'h'"}],"mark":{"type":"point","filled":true,"size":18,"opacity":1},
"encoding":{"x":{"field":"x","type":"quantitative","scale":{"domain":[0.477,1.003],"nice":false,"zero":false},"axis":{"values":[0.5,0.6,0.7,0.8,0.9,1.0],"tickCount":20,"format":".1f","title":"Agreement Threshold"}},
"y":{"field":"y","type":"quantitative","scale":{"domain":[0.7,1.0],"nice":false,"zero":false},"axis":{"values":[0.7,0.8,0.9,1.0],"tickCount":20,"format":".1f","title":"Accuracy Score"}},
"color":{"datum":"Data","type":"nominal","scale":{"domain":["Data","Fitted Line"],"range":["#d88c8c","#3bb5f0"]},"legend":{"title":null,"orient":"none","legendX":10,"legendY":-20,"direction":"horizontal"}},
"shape":{"datum":"Data","type":"nominal","scale":{"domain":["Data","Fitted Line"],"range":["circle","M-7,0H7"]},"legend":{"title":null,"orient":"none","legendX":10,"legendY":-20,"direction":"horizontal"}}}},
{"data":{"name":"fit"},"transform":[{"filter":"datum.p === 'h'"}],"mark":{"type":"line","strokeWidth":2},"encoding":{"x":{"field":"x","type":"quantitative"},"y":{"field":"y","type":"quantitative"},"color":{"datum":"Fitted Line","type":"nominal"}}},
{"data":{"values":[{}]},"mark":{"type":"rect","fill":"white","stroke":"#cccccc","strokeWidth":1},"encoding":{"x":{"datum":0.49927},"x2":{"datum":0.81097},"y":{"datum":0.98986},"y2":{"datum":0.96047}}},
{"data":{"values":[{}]},"mark":{"type":"rect","fill":"white","stroke":"#cccccc","strokeWidth":1},"encoding":{"x":{"datum":0.49927},"x2":{"datum":0.77062},"y":{"datum":0.96047},"y2":{"datum":0.93108}}},
{"data":{"values":[{}]},"mark":{"type":"rect","fill":"white","stroke":"#cccccc","strokeWidth":1},"encoding":{"x":{"datum":0.49927},"x2":{"datum":0.82767},"y":{"datum":0.93108},"y2":{"datum":0.90169}}},
{"data":{"values":[{}]},"mark":{"type":"text","align":"left","baseline":"alphabetic","fontSize":11.7,"lineHeight":14.5,"color":"#000000","text":["Coefficient β: 0.16","R-squared: 0.46","Spearman's ρ: 0.72"]},"encoding":{"x":{"datum":0.50483},"y":{"datum":0.96676}}}
]},
{"width":189,"height":148,"title":{"text":"(i) Tweet Irony Speech","offset":7},
"layer":[
{"data":{"name":"pts"},"transform":[{"filter":"datum.p === 'i'"}],"mark":{"type":"point","filled":true,"size":18,"opacity":1},
"encoding":{"x":{"field":"x","type":"quantitative","scale":{"domain":[0.477,1.003],"nice":false,"zero":false},"axis":{"values":[0.5,0.6,0.7,0.8,0.9,1.0],"tickCount":20,"format":".1f","title":"Agreement Threshold"}},
"y":{"field":"y","type":"quantitative","scale":{"domain":[0.5,0.9],"nice":false,"zero":false},"axis":{"values":[0.5,0.6,0.7,0.8,0.9],"tickCount":20,"format":".1f","title":"Accuracy Score"}},
"color":{"datum":"Data","type":"nominal","scale":{"domain":["Data","Fitted Line"],"range":["#d88c8c","#3bb5f0"]},"legend":{"title":null,"orient":"none","legendX":10,"legendY":-20,"direction":"horizontal"}},
"shape":{"datum":"Data","type":"nominal","scale":{"domain":["Data","Fitted Line"],"range":["circle","M-7,0H7"]},"legend":{"title":null,"orient":"none","legendX":10,"legendY":-20,"direction":"horizontal"}}}},
{"data":{"name":"fit"},"transform":[{"filter":"datum.p === 'i'"}],"mark":{"type":"line","strokeWidth":2},"encoding":{"x":{"field":"x","type":"quantitative"},"y":{"field":"y","type":"quantitative"},"color":{"datum":"Fitted Line","type":"nominal"}}},
{"data":{"values":[{}]},"mark":{"type":"rect","fill":"white","stroke":"#cccccc","strokeWidth":1},"encoding":{"x":{"datum":0.49927},"x2":{"datum":0.81097},"y":{"datum":0.88649},"y2":{"datum":0.8473}}},
{"data":{"values":[{}]},"mark":{"type":"rect","fill":"white","stroke":"#cccccc","strokeWidth":1},"encoding":{"x":{"datum":0.49927},"x2":{"datum":0.77062},"y":{"datum":0.8473},"y2":{"datum":0.80811}}},
{"data":{"values":[{}]},"mark":{"type":"rect","fill":"white","stroke":"#cccccc","strokeWidth":1},"encoding":{"x":{"datum":0.49927},"x2":{"datum":0.82767},"y":{"datum":0.80811},"y2":{"datum":0.76892}}},
{"data":{"values":[{}]},"mark":{"type":"text","align":"left","baseline":"alphabetic","fontSize":11.7,"lineHeight":14.5,"color":"#000000","text":["Coefficient β: 0.08","R-squared: 0.03","Spearman's ρ: 0.28"]},"encoding":{"x":{"datum":0.50483},"y":{"datum":0.85568}}}
]},
{"width":189,"height":148,"title":{"text":"(j) Financial Phrasebank","offset":7},
"layer":[
{"data":{"name":"pts"},"transform":[{"filter":"datum.p === 'j'"}],"mark":{"type":"point","filled":true,"size":18,"opacity":1},
"encoding":{"x":{"field":"x","type":"quantitative","scale":{"domain":[0.371,1.009],"nice":false,"zero":false},"axis":{"values":[0.4,0.5,0.6,0.7,0.8,0.9,1.0],"tickCount":20,"format":".1f","title":"Agreement Threshold"}},
"y":{"field":"y","type":"quantitative","scale":{"domain":[0.79,1.0224],"nice":false,"zero":false},"axis":{"values":[0.9,1.0],"tickCount":20,"format":".1f","title":"Accuracy Score"}},
"color":{"datum":"Data","type":"nominal","scale":{"domain":["Data","Fitted Line"],"range":["#d88c8c","#3bb5f0"]},"legend":{"title":null,"orient":"none","legendX":10,"legendY":-20,"direction":"horizontal"}},
"shape":{"datum":"Data","type":"nominal","scale":{"domain":["Data","Fitted Line"],"range":["circle","M-7,0H7"]},"legend":{"title":null,"orient":"none","legendX":10,"legendY":-20,"direction":"horizontal"}}}},
{"data":{"name":"fit"},"transform":[{"filter":"datum.p === 'j'"}],"mark":{"type":"line","strokeWidth":2},"encoding":{"x":{"field":"x","type":"quantitative"},"y":{"field":"y","type":"quantitative"},"color":{"datum":"Fitted Line","type":"nominal"}}},
{"data":{"values":[{}]},"mark":{"type":"rect","fill":"white","stroke":"#cccccc","strokeWidth":1},"encoding":{"x":{"datum":0.39801},"x2":{"datum":0.77608},"y":{"datum":1.01455},"y2":{"datum":0.99178}}},
{"data":{"values":[{}]},"mark":{"type":"rect","fill":"white","stroke":"#cccccc","strokeWidth":1},"encoding":{"x":{"datum":0.39801},"x2":{"datum":0.72714},"y":{"datum":0.99178},"y2":{"datum":0.96901}}},
{"data":{"values":[{}]},"mark":{"type":"rect","fill":"white","stroke":"#cccccc","strokeWidth":1},"encoding":{"x":{"datum":0.39801},"x2":{"datum":0.79634},"y":{"datum":0.96901},"y2":{"datum":0.94624}}},
{"data":{"values":[{}]},"mark":{"type":"text","align":"left","baseline":"alphabetic","fontSize":11.7,"lineHeight":14.5,"color":"#000000","text":["Coefficient β: 0.36","R-squared: 0.81","Spearman's ρ: 0.87"]},"encoding":{"x":{"datum":0.40476},"y":{"datum":0.99665}}}
]}
], "spacing": 13}
],
"config": {
"font": "DejaVu Sans",
"view": {"stroke": "#d8d8d8", "strokeWidth": 1},
"axis": {"grid": true, "gridColor": "#e6e6e6", "gridWidth": 1, "domain": false, "ticks": false, "labelFont": "DejaVu Sans", "labelFontSize": 8.5, "labelColor": "#444444", "labelPadding": 2.5, "labelFlush": false, "labelOverlap": false, "titleFont": "DejaVu Sans", "titleFontWeight": "bold", "titleColor": "#000000"},
"axisX": {"titleFontSize": 11.7, "titlePadding": 1},
"axisY": {"titleFontSize": 9, "titlePadding": 1.5, "minExtent": 22, "maxExtent": 22},
"legend": {"padding": 4, "strokeColor": "#cccccc", "fillColor": "white", "cornerRadius": 2, "labelFont": "DejaVu Sans", "labelFontWeight": "bold", "labelFontSize": 10.7, "labelColor": "#000000", "labelOffset": 18, "columnPadding": 4, "gridAlign": "none", "symbolSize": 12, "symbolStrokeWidth": 2},
"title": {"orient": "bottom", "anchor": "middle", "frame": "bounds", "font": "Liberation Serif", "fontSize": 23, "fontWeight": "normal", "color": "#000000"}
}
}
